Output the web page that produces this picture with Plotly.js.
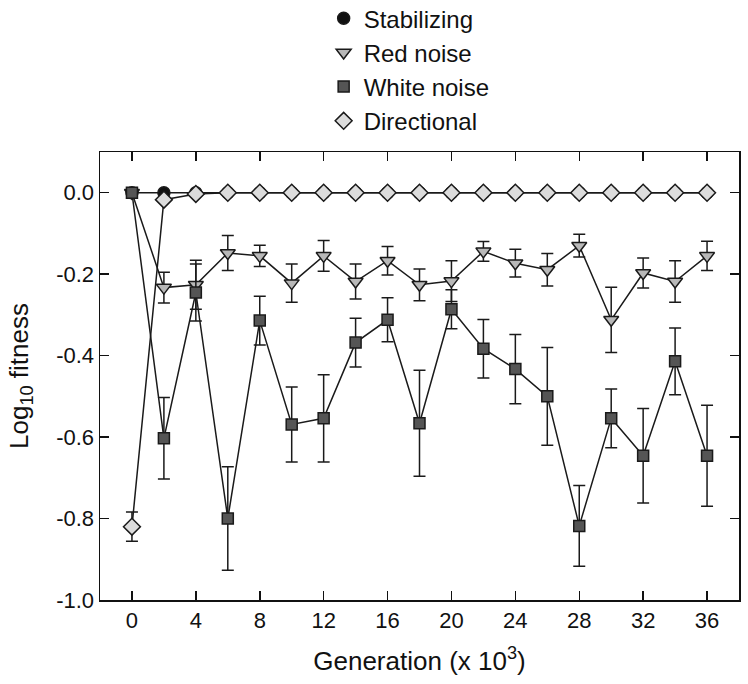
<!DOCTYPE html>
<html>
<head>
<meta charset="utf-8">
<script src="https://cdn.plot.ly/plotly-3.0.1.min.js"></script>
<style>html,body{margin:0;padding:0;background:#fff;}#chart{width:748px;height:684px;}</style>
</head>
<body>
<div id="chart"></div>
<script>
const generation = [0, 2, 4, 6, 8, 10, 12, 14, 16, 18, 20, 22, 24, 26, 28, 30, 32, 34, 36];

const stabilizing = [0, 0, 0, 0, 0, 0, 0, 0, 0, 0, 0, 0, 0, 0, 0, 0, 0, 0, 0];

const redNoise    = [0, -0.233, -0.226, -0.148, -0.155, -0.222, -0.155, -0.218, -0.167, -0.226, -0.217, -0.144, -0.173, -0.189, -0.130, -0.312, -0.197, -0.218, -0.155];
const redNoiseErr = [0, 0.038, 0.06, 0.043, 0.026, 0.047, 0.038, 0.043, 0.035, 0.039, 0.05, 0.024, 0.034, 0.04, 0.028, 0.08, 0.037, 0.051, 0.036];

const whiteNoise    = [0, -0.603, -0.245, -0.800, -0.314, -0.569, -0.554, -0.368, -0.312, -0.566, -0.286, -0.383, -0.433, -0.500, -0.818, -0.554, -0.646, -0.414, -0.646];
const whiteNoiseErr = [0, 0.10, 0.07, 0.127, 0.06, 0.092, 0.107, 0.06, 0.054, 0.13, 0.048, 0.072, 0.085, 0.12, 0.099, 0.072, 0.116, 0.082, 0.124];

const directional    = [-0.82, -0.017, -0.003, 0, 0, 0, 0, 0, 0, 0, 0, 0, 0, 0, 0, 0, 0, 0, 0];
const directionalErr = [0.036, 0, 0, 0, 0, 0, 0, 0, 0, 0, 0, 0, 0, 0, 0, 0, 0, 0, 0];

const xTicks = [0, 4, 8, 12, 16, 20, 24, 28, 32, 36];
const yTicks = [0, -0.2, -0.4, -0.6, -0.8, -1.0];
const yTickText = ['0.0', '-0.2', '-0.4', '-0.6', '-0.8', '-1.0'];

const lineStyle = {color: '#1a1a1a', width: 1.5};
const outline = {color: '#1a1a1a', width: 1.5};
const errStyle = {type: 'data', visible: true, color: '#1a1a1a', thickness: 1.5, width: 6};

const series = [
  {name: 'Stabilizing', y: stabilizing, err: null, symbol: 'circle', size: 12, fill: '#111111', rank: 1},
  {name: 'Red noise', y: redNoise, err: redNoiseErr, symbol: 'triangle-down', size: 13, fill: '#b8b8b8', rank: 2},
  {name: 'Directional', y: directional, err: directionalErr, symbol: 'diamond', size: 13, fill: '#dcdcdc', rank: 4},
  {name: 'White noise', y: whiteNoise, err: whiteNoiseErr, symbol: 'square', size: 11, fill: '#555555', rank: 3}
];

const traces = [];
series.forEach(s => {
  const t = {
    x: generation, y: s.y, mode: 'lines+markers', type: 'scatter',
    showlegend: false, hoverinfo: 'skip',
    line: lineStyle,
    marker: {symbol: s.symbol, size: s.size, color: s.fill, line: outline}
  };
  if (s.err) t.error_y = Object.assign({array: s.err}, errStyle);
  traces.push(t);
});
series.forEach(s => {
  traces.push({
    x: [null], y: [null], mode: 'markers', type: 'scatter', name: s.name,
    legendrank: s.rank,
    marker: {symbol: s.symbol, size: s.size, color: s.fill, line: outline}
  });
});

const fontFam = 'Liberation Sans, Arial, sans-serif';
const layout = {
  width: 748, height: 684,
  margin: {l: 100, r: 9, t: 152, b: 84, autoexpand: false},
  paper_bgcolor: '#fff', plot_bgcolor: '#fff',
  font: {family: fontFam, size: 22, color: '#111'},
  showlegend: true,
  legend: {
    xref: 'paper', yref: 'paper',
    x: 0.35, y: 1.348, xanchor: 'left', yanchor: 'top',
    font: {family: fontFam, size: 24, color: '#111'},
    bgcolor: 'rgba(0,0,0,0)', tracegroupgap: 0
  },
  xaxis: {
    range: [-2, 38], tickvals: xTicks, ticktext: xTicks.map(String),
    automargin: false,
    ticks: 'inside', ticklen: 9, tickwidth: 1.5, tickcolor: '#111',
    showline: true, linecolor: '#111', linewidth: 1.5, mirror: 'ticks',
    showgrid: false, zeroline: false,
    tickfont: {family: fontFam, size: 22, color: '#111'},
    title: {text: 'Generation (x 10<sup>3</sup>)', font: {family: fontFam, size: 26, color: '#111'}, standoff: 20}
  },
  yaxis: {
    range: [-1.0, 0.1], tickvals: yTicks, ticktext: yTickText,
    automargin: false,
    ticks: 'inside', ticklen: 9, tickwidth: 1.5, tickcolor: '#111',
    showline: true, linecolor: '#111', linewidth: 1.5, mirror: 'ticks',
    showgrid: false, zeroline: false,
    tickfont: {family: fontFam, size: 22, color: '#111'},
    title: {text: 'Log<sub>10</sub> fitness', font: {family: fontFam, size: 26, color: '#111'}, standoff: 20}
  }
};

Plotly.newPlot('chart', traces, layout, {displayModeBar: false, staticPlot: true});
</script>
</body>
</html>
